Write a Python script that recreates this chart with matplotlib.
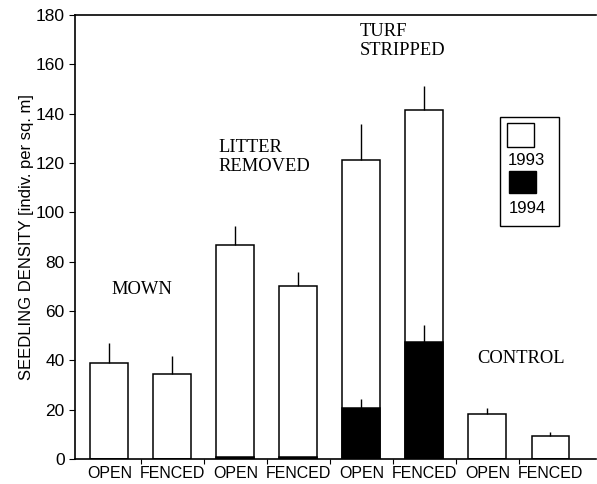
import numpy as np
import matplotlib.pyplot as plt

# data
groups = ['MOWN', 'LITTER\nREMOVED', 'TURF\nSTRIPPED', 'CONTROL']
ticklabels = ['OPEN', 'FENCED'] * 4
y1993 = [38.7, 34.5, 86.8, 70.0, 121.2, 141.5, 18.0, 9.2]
err1993 = [8.2, 7.2, 7.8, 5.6, 14.6, 9.6, 2.7, 1.5]
y1994 = [0, 0, 0.8, 0.8, 20.7, 47.3, 0, 0]
err1994 = [0, 0, 0, 0, 3.7, 6.8, 0, 0]

sans = 'Liberation Sans'
serif = 'Liberation Serif'

fig = plt.figure(figsize=(5.97, 4.84), dpi=100)
ax = fig.add_axes([0.126, 0.052, 0.872, 0.917])

x = np.arange(len(y1993))
w = 0.6

ax.bar(x, y1993, width=w, color='white', edgecolor='black', linewidth=1.1, zorder=2)
ax.bar(x, y1994, width=w, color='black', edgecolor='black', linewidth=1.1, zorder=3)

# one-sided error bars, no caps
ax.vlines(x, y1993, np.array(y1993) + np.array(err1993), color='black', linewidth=1, zorder=2)
m = np.array(err1994) > 0
ax.vlines(x[m], np.array(y1994)[m], (np.array(y1994) + np.array(err1994))[m],
          color='black', linewidth=1, zorder=3)

ax.set_xlim(-0.54, 7.72)
ax.set_ylim(0, 180)
ax.set_yticks(range(0, 181, 20))
ax.set_yticklabels([str(v) for v in range(0, 181, 20)], fontsize=12.5, family=sans)

# tick marks between bars, labels under bars
ax.set_xticks(np.arange(0.5, 7.5, 1.0))
ax.set_xticklabels([])
ax.set_xticks(x, minor=True)
ax.set_xticklabels(ticklabels, minor=True, fontsize=11.5, family=sans)
ax.tick_params(axis='x', which='minor', length=0, pad=5.5)
ax.tick_params(axis='x', which='major', length=3.5, direction='out')
ax.tick_params(axis='y', length=4, direction='out')

ax.spines['right'].set_visible(False)
for s in ['left', 'top', 'bottom']:
    ax.spines[s].set_linewidth(1.2)

ax.set_ylabel('SEEDLING DENSITY [indiv. per sq. m]', fontsize=12, family=sans, labelpad=1)

# group labels
ax.text(0.52, 68.5, groups[0], fontsize=13.3, family=serif, ha='center', va='center')
ax.text(1.73, 122.5, groups[1], fontsize=13.3, family=serif, ha='left', va='center', linespacing=1.15)
ax.text(3.98, 169.5, groups[2], fontsize=13.3, family=serif, ha='left', va='center', linespacing=1.15)
ax.text(5.84, 40.5, groups[3], fontsize=13.3, family=serif, ha='left', va='center')

# legend drawn as a small box in axes coords
lx0, lx1 = (500 - 75) / 520.6, (559 - 75) / 520.6
ly0, ly1 = (459 - 226) / 444, (459 - 117) / 444
ax.add_patch(plt.Rectangle((lx0, ly0), lx1 - lx0, ly1 - ly0, transform=ax.transAxes,
                           facecolor='white', edgecolor='black', linewidth=1, zorder=5))
px0, pw = (507 - 75) / 520.6, 27 / 520.6
ax.add_patch(plt.Rectangle((px0, (459 - 147) / 444), pw, 24 / 444, transform=ax.transAxes,
                           facecolor='white', edgecolor='black', linewidth=1, zorder=6))
ax.add_patch(plt.Rectangle((px0 + 0.003, (459 - 193) / 444), pw, 22 / 444, transform=ax.transAxes,
                           facecolor='black', edgecolor='black', linewidth=1, zorder=6))
ax.text((526 - 75) / 520.6, (459 - 161) / 444, '1993', transform=ax.transAxes,
        fontsize=12, family=sans, ha='center', va='center', zorder=7)
ax.text((527 - 75) / 520.6, (459 - 209) / 444, '1994', transform=ax.transAxes,
        fontsize=12, family=sans, ha='center', va='center', zorder=7)

fig.savefig('out.png', dpi=100)
